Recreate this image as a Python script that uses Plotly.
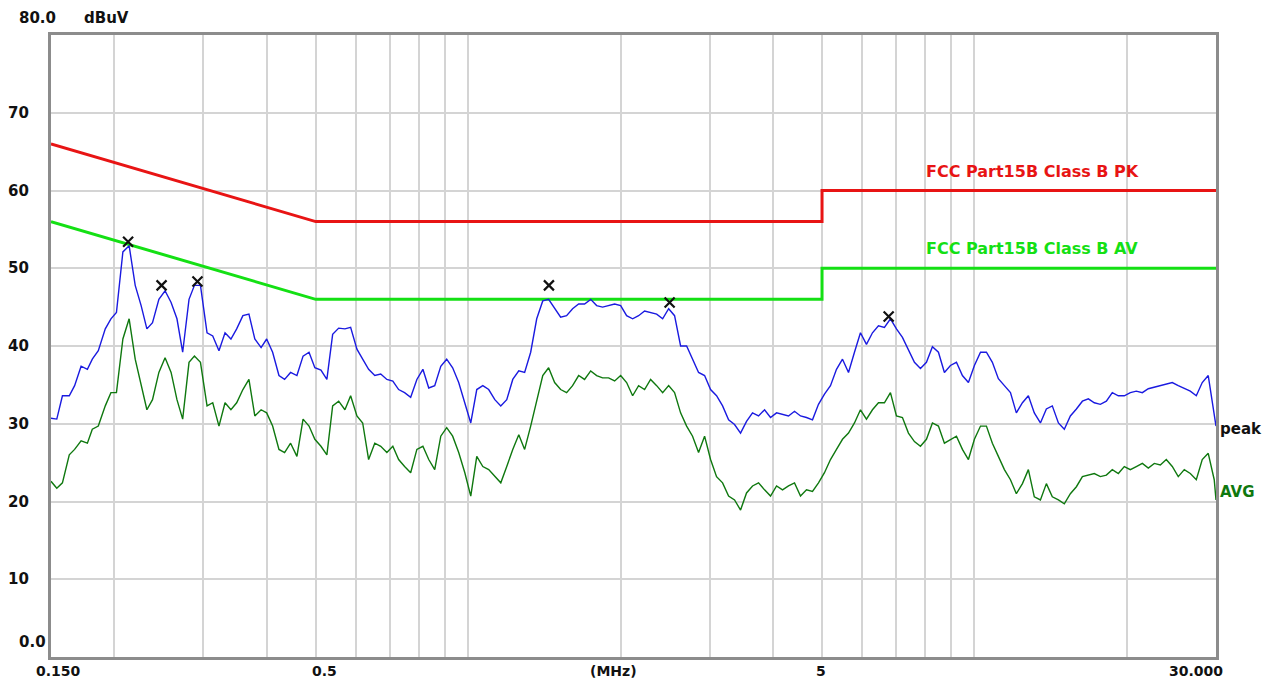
import plotly.graph_objects as go

# Sweep frequencies (MHz)
freq_mhz = [
    0.150, 0.154, 0.158, 0.163, 0.167, 0.172, 0.177, 0.181, 0.186, 0.192,
    0.197, 0.202, 0.208, 0.214, 0.220, 0.226, 0.232, 0.238, 0.245, 0.252,
    0.259, 0.266, 0.273, 0.281, 0.288, 0.296, 0.305, 0.313, 0.322, 0.331,
    0.340, 0.349, 0.359, 0.369, 0.379, 0.390, 0.400, 0.411, 0.423, 0.434,
    0.446, 0.459, 0.472, 0.485, 0.498, 0.512, 0.526, 0.540, 0.555, 0.571,
    0.586, 0.603, 0.619, 0.636, 0.654, 0.672, 0.691, 0.710, 0.729, 0.749,
    0.770, 0.792, 0.814, 0.836, 0.859, 0.883, 0.907, 0.932, 0.958, 0.985,
    1.012, 1.040, 1.069, 1.098, 1.129, 1.160, 1.192, 1.225, 1.259, 1.293,
    1.329, 1.366, 1.404, 1.442, 1.482, 1.523, 1.565, 1.608, 1.653, 1.698,
    1.746, 1.794, 1.843, 1.894, 1.947, 2.001, 2.056, 2.113, 2.171, 2.231,
    2.293, 2.357, 2.422, 2.489, 2.557, 2.628, 2.701, 2.775, 2.852, 2.931,
    3.012, 3.095, 3.181, 3.269, 3.359, 3.452, 3.547, 3.645, 3.746, 3.850,
    3.956, 4.066, 4.178, 4.293, 4.412, 4.534, 4.659, 4.788, 4.920, 5.056,
    5.196, 5.340, 5.488, 5.640, 5.795, 5.955, 6.120, 6.289, 6.463, 6.641,
    6.825, 7.014, 7.208, 7.407, 7.612, 7.823, 8.039, 8.261, 8.490, 8.724,
    8.966, 9.214, 9.468, 9.730, 9.999, 10.28, 10.56, 10.85, 11.15, 11.46,
    11.78, 12.10, 12.44, 12.78, 13.13, 13.50, 13.87, 14.25, 14.65, 15.05,
    15.47, 15.90, 16.34, 16.79, 17.25, 17.73, 18.22, 18.72, 19.24, 19.77,
    20.32, 20.88, 21.46, 22.05, 22.66, 23.29, 23.93, 24.59, 25.27, 25.97,
    26.69, 27.43, 28.18, 28.96, 29.76, 30.00,
]

peak_dbuv = [
    30.7, 30.6, 33.6, 33.6, 34.9, 37.4, 37.0, 38.3, 39.4, 42.2,
    43.5, 44.3, 52.1, 52.9, 47.8, 45.2, 42.2, 43.0, 46.0, 47.1,
    45.6, 43.5, 39.2, 46.0, 47.8, 47.8, 41.7, 41.3, 39.4, 41.7,
    40.9, 42.2, 43.9, 44.1, 40.9, 39.8, 40.9, 39.2, 36.2, 35.7,
    36.6, 36.2, 38.7, 39.2, 37.2, 36.9, 35.7, 41.5, 42.3, 42.2,
    42.4, 39.6, 38.3, 37.0, 36.2, 36.4, 35.7, 35.5, 34.4, 34.0,
    33.4, 35.7, 37.0, 34.6, 34.9, 37.4, 38.3, 37.2, 35.3, 32.7,
    30.1, 34.4, 34.9, 34.4, 33.1, 32.3, 33.1, 35.7, 36.8, 36.6,
    39.2, 43.5, 45.8, 46.0, 44.8, 43.7, 43.9, 44.8, 45.4, 45.4,
    46.0, 45.2, 45.0, 45.2, 45.4, 45.2, 43.9, 43.5, 43.9, 44.5,
    44.3, 44.1, 43.5, 44.8, 43.9, 40.0, 40.0, 38.3, 36.6, 36.2,
    34.4, 33.6, 32.3, 30.5, 29.9, 28.8, 30.3, 31.4, 31.0, 31.8,
    30.8, 31.4, 31.2, 31.0, 31.6, 31.0, 30.8, 30.5, 32.5, 33.8,
    34.9, 37.0, 38.3, 36.6, 39.2, 41.7, 40.2, 41.7, 42.6, 42.4,
    43.5, 42.2, 41.1, 39.4, 37.9, 37.1, 37.9, 39.9, 39.2, 36.6,
    37.5, 37.9, 36.2, 35.3, 37.5, 39.2, 39.2, 37.9, 35.8, 34.9,
    34.0, 31.4, 32.7, 33.6, 31.4, 30.1, 31.9, 32.3, 30.1, 29.3,
    31.0, 31.9, 32.9, 33.2, 32.7, 32.5, 32.9, 34.0, 33.6, 33.6,
    34.0, 34.2, 34.0, 34.5, 34.7, 34.9, 35.1, 35.3, 34.9, 34.5,
    34.2, 33.6, 35.3, 36.2, 31.0, 29.7,
]

avg_dbuv = [
    22.6, 21.7, 22.4, 26.0, 26.7, 27.8, 27.5, 29.3, 29.7, 32.3,
    34.0, 34.0, 40.9, 43.5, 38.3, 34.9, 31.8, 33.1, 36.6, 38.5,
    36.6, 33.1, 30.6, 37.9, 38.7, 37.9, 32.3, 32.7, 29.7, 32.7,
    31.8, 32.7, 34.4, 35.7, 31.0, 31.8, 31.4, 29.7, 26.7, 26.3,
    27.5, 25.8, 30.6, 29.7, 28.0, 27.1, 26.0, 32.3, 32.9, 31.8,
    33.6, 31.0, 30.1, 25.4, 27.5, 27.1, 26.3, 27.1, 25.4, 24.5,
    23.7, 26.7, 27.1, 25.4, 24.1, 28.4, 29.5, 28.4, 26.3, 23.7,
    20.7, 25.8, 24.5, 24.1, 23.2, 22.4, 24.5, 26.7, 28.6, 26.7,
    29.7, 33.1, 36.2, 37.2, 35.3, 34.4, 34.0, 34.9, 36.2, 35.7,
    36.8, 36.2, 35.9, 35.9, 35.5, 36.2, 35.3, 33.6, 34.9, 34.4,
    35.7, 34.9, 34.0, 34.9, 34.0, 31.4, 29.7, 28.4, 26.3, 28.4,
    25.4, 23.2, 22.4, 20.7, 20.2, 18.9, 21.1, 22.0, 22.4, 21.5,
    20.7, 22.0, 21.5, 22.0, 22.4, 20.7, 21.5, 21.3, 22.4, 23.7,
    25.4, 26.7, 28.0, 28.8, 30.1, 31.8, 30.6, 31.8, 32.7, 32.7,
    34.0, 31.0, 30.8, 28.8, 27.7, 27.1, 28.0, 30.1, 29.7, 27.5,
    28.0, 28.4, 26.7, 25.4, 28.0, 29.7, 29.7, 27.5, 25.8, 24.1,
    22.8, 21.0, 22.3, 24.1, 20.6, 20.2, 22.3, 20.6, 20.2, 19.7,
    21.0, 21.9, 23.2, 23.4, 23.6, 23.2, 23.4, 24.1, 23.6, 24.5,
    24.1, 24.5, 24.9, 24.3, 24.9, 24.7, 25.4, 24.5, 23.2, 24.1,
    23.6, 22.8, 25.4, 26.2, 22.8, 20.2,
]

# Limit lines (FCC Part 15B Class B)
limit_freq = [0.15, 0.5, 5.0, 5.0, 30.0]
limit_pk = [66, 56, 56, 60, 60]
limit_av = [56, 46, 46, 50, 50]

# Marked peaks
mark_freq = [0.213, 0.248, 0.292, 1.444, 2.50, 6.77]
mark_dbuv = [53.4, 47.8, 48.3, 47.8, 45.6, 43.8]

grid_freq = [0.2, 0.3, 0.4, 0.5, 0.6, 0.7, 0.8, 0.9, 1, 2, 3, 4, 5, 6, 7, 8, 9, 10, 20]
y_grid = [10, 20, 30, 40, 50, 60, 70]

FONT = "DejaVu Sans"

fig = go.Figure()
fig.add_trace(go.Scatter(x=limit_freq, y=limit_pk, mode="lines",
                         line=dict(color="#e81414", width=3), hoverinfo="skip"))
fig.add_trace(go.Scatter(x=limit_freq, y=limit_av, mode="lines",
                         line=dict(color="#14e014", width=3), hoverinfo="skip"))
fig.add_trace(go.Scatter(x=freq_mhz, y=avg_dbuv, mode="lines",
                         line=dict(color="#0f780f", width=1.4)))
fig.add_trace(go.Scatter(x=freq_mhz, y=peak_dbuv, mode="lines",
                         line=dict(color="#1a1ae0", width=1.4)))
fig.add_trace(go.Scatter(x=mark_freq, y=mark_dbuv, mode="markers",
                         marker=dict(symbol="x-thin", size=10, line=dict(color="#111111", width=2.2))))

W, H = 1260, 670
fig.update_layout(
    width=W, height=H,
    margin=dict(l=43, r=52, t=27, b=21),
    paper_bgcolor="white", plot_bgcolor="white",
    showlegend=False,
    font=dict(family=FONT, size=15, color="#111111"),
)
fig.update_xaxes(type="log", range=[-0.82391, 1.47712],
                 tickvals=grid_freq, showticklabels=False, ticks="",
                 showgrid=True, gridcolor="#d4d4d4", gridwidth=1.5,
                 showline=True, linecolor="#8c8c8c", linewidth=3, mirror=True,
                 zeroline=False)
fig.update_yaxes(range=[0, 80], tickvals=y_grid, showticklabels=False, ticks="",
                 showgrid=True, gridcolor="#d4d4d4", gridwidth=1.5,
                 showline=True, linecolor="#8c8c8c", linewidth=3, mirror=True,
                 zeroline=False)

def px_x(p):
    return (p - 51) / 1165.0

def px_y(p):
    return (657 - p) / 622.0

ann = []
def add(text, x, y, xanchor="left", color="#111111", size=15, yref="paper", yanchor="middle"):
    ann.append(dict(text="<b>%s</b>" % text, x=x, y=y, xref="paper", yref=yref,
                    xanchor=xanchor, yanchor=yanchor, showarrow=False,
                    borderpad=0,
                    font=dict(family=FONT, size=size, color=color)))

add("80.0", px_x(18), px_y(18))
add("dBuV", px_x(83), px_y(18))
for v in [70, 60, 50, 40, 30, 20, 10]:
    add(str(v), px_x(7), v, yref="y")
add("0.0", px_x(18), px_y(642))

# bottom axis labels, anchored at the top so they stay inside the page
for txt, cx in [("0.150", 58), ("0.5", 324), ("(MHz)", 613), ("5", 821), ("30.000", 1196)]:
    add(txt, px_x(cx), px_y(662), xanchor="center", size=14, yanchor="top")

add("FCC Part15B Class B PK", px_x(925), px_y(171), color="#e81414", size=16)
add("FCC Part15B Class B AV", px_x(925), px_y(248), color="#14e014", size=16)
add("peak", px_x(1219), px_y(429), size=15)
add("AVG", px_x(1219), px_y(492), color="#0f780f", size=15)

fig.update_layout(annotations=ann)
fig.write_html("out.html")
